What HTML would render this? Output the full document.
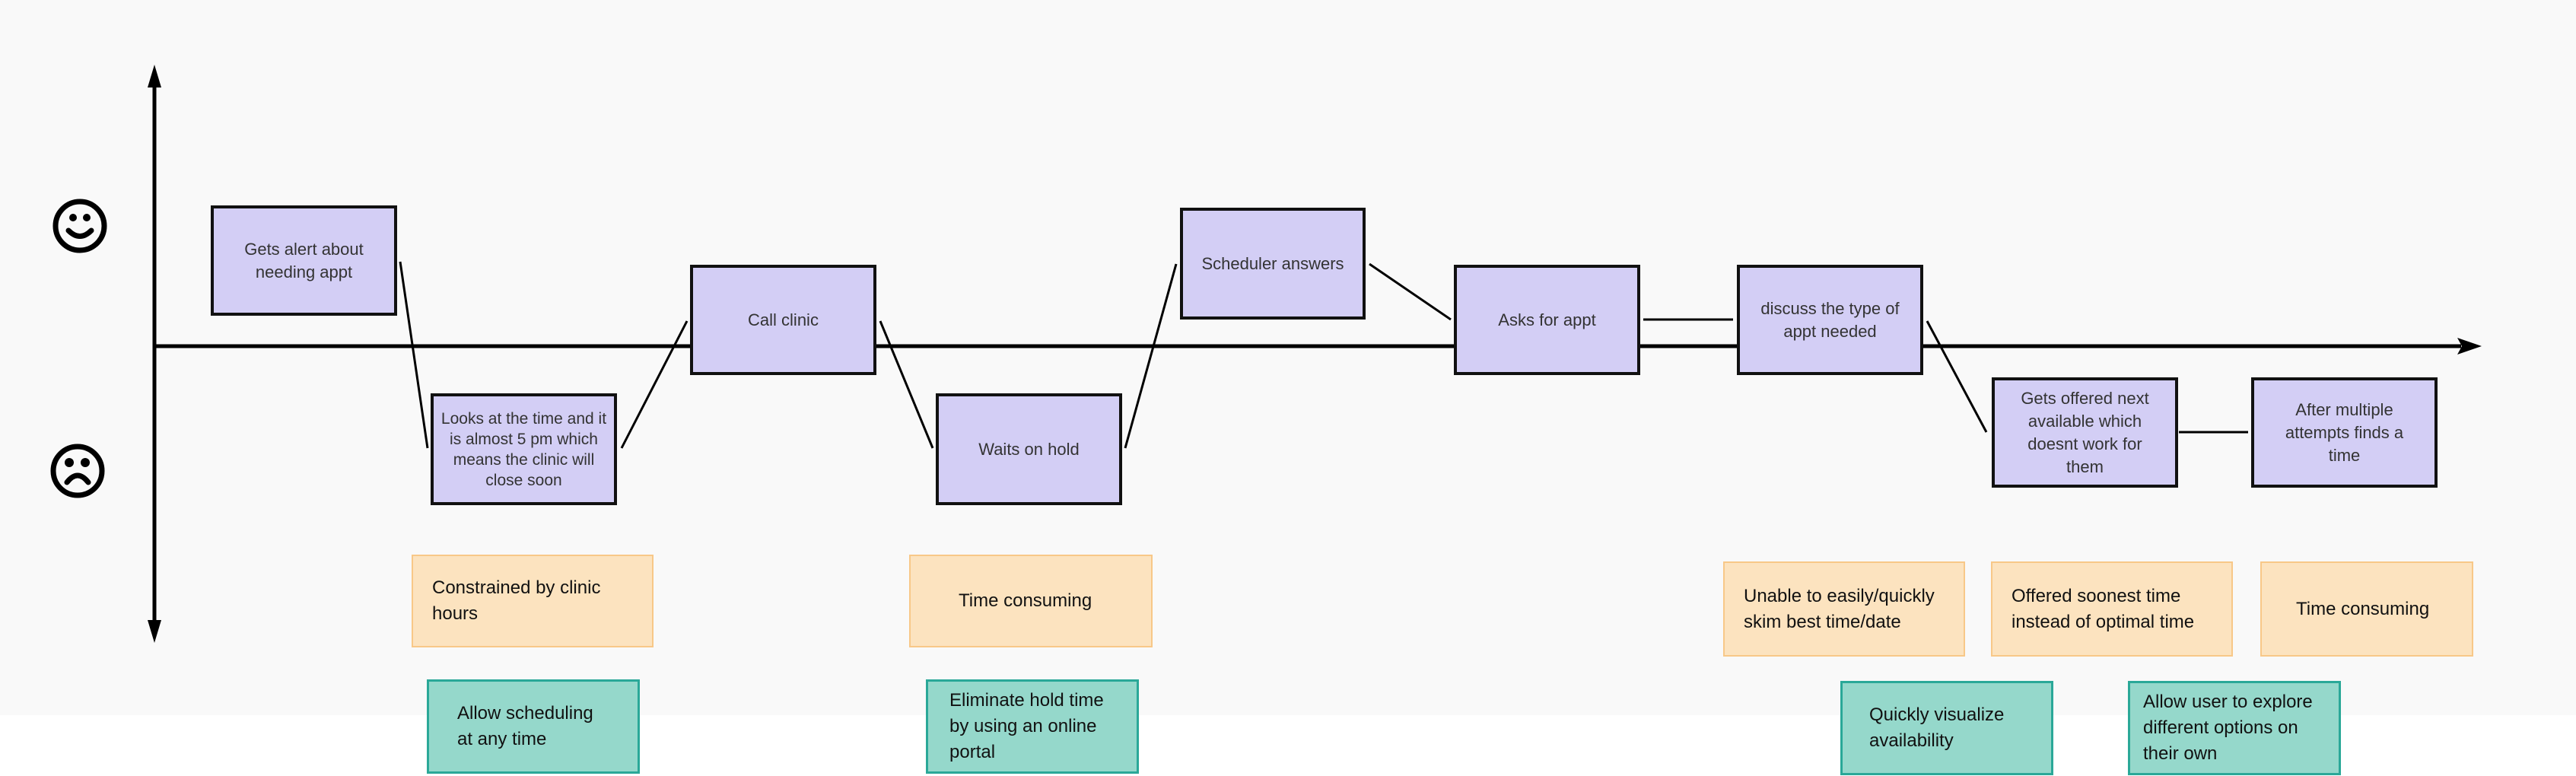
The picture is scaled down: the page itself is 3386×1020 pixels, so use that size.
<!DOCTYPE html>
<html><head><meta charset="utf-8"><style>
html,body{margin:0;padding:0}
body{width:3386px;height:1020px;position:relative;background:#fff;overflow:hidden;font-family:"Liberation Sans",sans-serif}
#bg{position:absolute;left:0;top:0;width:3386px;height:940px;background:#f9f9f9}
.b{position:absolute;box-sizing:border-box;background:#d3cef5;border:4px solid #111;display:flex;align-items:center;justify-content:center;text-align:center;font-size:22px;line-height:30px;color:#333;padding:0 10px}
.s{position:absolute;box-sizing:border-box;display:flex;align-items:center;font-size:24px;line-height:34px;color:#111}
.o{background:#fce3bf;border:2px solid #f8c888}
.t{background:#95d8cb;border:3px solid #2aa898}
svg{position:absolute;left:0;top:0}
</style></head><body>
<div id="bg"></div>
<svg width="3386" height="1020">
<g stroke="#000" stroke-width="5" fill="none">
<line x1="203" y1="100" x2="203" y2="830"/>
<line x1="203" y1="455" x2="3235" y2="455"/>
</g>
<polygon points="203,85 194,115 212,115" fill="#000"/>
<polygon points="203,845 194,815 212,815" fill="#000"/>
<polygon points="3262,455 3230,444 3236,455 3230,466" fill="#000"/>
<g stroke="#000" stroke-width="3" fill="none">
<line x1="526" y1="344" x2="562" y2="589"/>
<line x1="817" y1="589" x2="903" y2="422"/>
<line x1="1157" y1="422" x2="1226" y2="589"/>
<line x1="1479" y1="589" x2="1546" y2="347"/>
<line x1="1800" y1="347" x2="1907" y2="420"/>
<line x1="2160" y1="420" x2="2278" y2="420"/>
<line x1="2533" y1="422" x2="2611" y2="568"/>
<line x1="2864" y1="568" x2="2955" y2="568"/>
</g>
<g stroke="#000" stroke-width="7" fill="none" stroke-linecap="round">
<circle cx="105" cy="297" r="32"/>
<path d="M90 303 Q105 318 120 303"/>
<circle cx="102" cy="619" r="32"/>
<path d="M88 634 Q102 616 116 634"/>
</g>
<g fill="#000">
<circle cx="96" cy="286" r="5"/><circle cx="114" cy="286" r="5"/>
<circle cx="91" cy="608" r="6"/><circle cx="112" cy="608" r="6"/>
</g>
</svg>
<div class="b" style="left:277px;top:270px;width:245px;height:145px">Gets alert about needing appt</div>
<div class="b" style="left:566px;top:517px;width:245px;height:147px;font-size:21px;line-height:27px;padding:0 4px">Looks at the time and it is almost 5 pm which means the clinic will close soon</div>
<div class="b" style="left:907px;top:348px;width:245px;height:145px">Call clinic</div>
<div class="b" style="left:1230px;top:517px;width:245px;height:147px">Waits on hold</div>
<div class="b" style="left:1551px;top:273px;width:244px;height:147px">Scheduler answers</div>
<div class="b" style="left:1911px;top:348px;width:245px;height:145px">Asks for appt</div>
<div class="b" style="left:2283px;top:348px;width:245px;height:145px">discuss the type of appt needed</div>
<div class="b" style="left:2618px;top:496px;width:245px;height:145px;padding:0 28px">Gets offered next available which doesnt work for them</div>
<div class="b" style="left:2959px;top:496px;width:245px;height:145px;padding:0 32px">After multiple attempts finds a time</div>

<div class="s o" style="left:541px;top:729px;width:318px;height:122px;padding-left:25px">Constrained by clinic<br>hours</div>
<div class="s o" style="left:1195px;top:729px;width:320px;height:122px;padding-left:63px">Time consuming</div>
<div class="s o" style="left:2265px;top:738px;width:318px;height:125px;padding-left:25px">Unable to easily/quickly<br>skim best time/date</div>
<div class="s o" style="left:2617px;top:738px;width:318px;height:125px;padding-left:25px">Offered soonest time<br>instead of optimal time</div>
<div class="s o" style="left:2971px;top:738px;width:280px;height:125px;padding-left:45px">Time consuming</div>

<div class="s t" style="left:561px;top:893px;width:280px;height:124px;padding-left:37px">Allow scheduling<br>at any time</div>
<div class="s t" style="left:1217px;top:893px;width:280px;height:124px;padding-left:28px">Eliminate hold time<br>by using an online<br>portal</div>
<div class="s t" style="left:2419px;top:895px;width:280px;height:124px;padding-left:35px">Quickly visualize<br>availability</div>
<div class="s t" style="left:2797px;top:895px;width:280px;height:124px;padding-left:17px">Allow user to explore<br>different options on<br>their own</div>
</body></html>
